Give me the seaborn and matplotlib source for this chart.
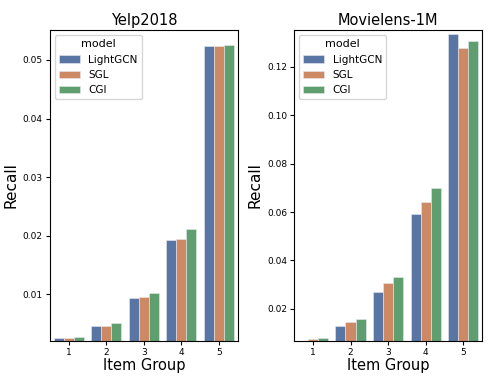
import numpy as np
import matplotlib
matplotlib.use("Agg")
import matplotlib.pyplot as plt
import seaborn as sns
import pandas as pd

groups = [1, 2, 3, 4, 5]
models = ["LightGCN", "SGL", "CGI"]

# Yelp2018 recall per item group
yelp_lightgcn = [0.0025, 0.00455, 0.0094, 0.0192, 0.05244]
yelp_sgl = [0.0025, 0.00458, 0.0095, 0.0195, 0.0523]
yelp_cgi = [0.0028, 0.0051, 0.0102, 0.0211, 0.0525]

# Movielens-1M recall per item group
ml_lightgcn = [0.0065, 0.0131, 0.0271, 0.0592, 0.1334]
ml_sgl = [0.0076, 0.0145, 0.0306, 0.0642, 0.1276]
ml_cgi = [0.0079, 0.0156, 0.0330, 0.0700, 0.1306]


def make_df(a, b, c):
    rows = []
    for name, vals in zip(models, [a, b, c]):
        for g, v in zip(groups, vals):
            rows.append({"Item Group": g, "Recall": v, "model": name})
    return pd.DataFrame(rows)


yelp = make_df(yelp_lightgcn, yelp_sgl, yelp_cgi)
ml = make_df(ml_lightgcn, ml_sgl, ml_cgi)

fig, axes = plt.subplots(1, 2, figsize=(4.98, 3.76), dpi=100)
plt.subplots_adjust(left=0.1, right=0.968, bottom=0.093, top=0.92, wspace=0.30)

for ax, df, title, ylim in [(axes[0], yelp, "Yelp2018", (0.00204, 0.0551)),
                            (axes[1], ml, "Movielens-1M", (0.0067, 0.1352))]:
    sns.barplot(data=df, x="Item Group", y="Recall", hue="model", palette="deep",
                edgecolor="#e8e8f0", linewidth=0.4, ax=ax)
    ax.set_ylim(*ylim)
    ax.set_title(title, fontsize=10.5, pad=4)
    ax.set_xlabel("Item Group", fontsize=10.5, labelpad=1)
    ax.set_ylabel("Recall", fontsize=11, labelpad=3)
    ax.tick_params(labelsize=6.5, length=3, pad=2)
    ax.legend(title="model", loc="upper left", fontsize=7.5, title_fontsize=8)

plt.savefig("out.png", dpi=100)
